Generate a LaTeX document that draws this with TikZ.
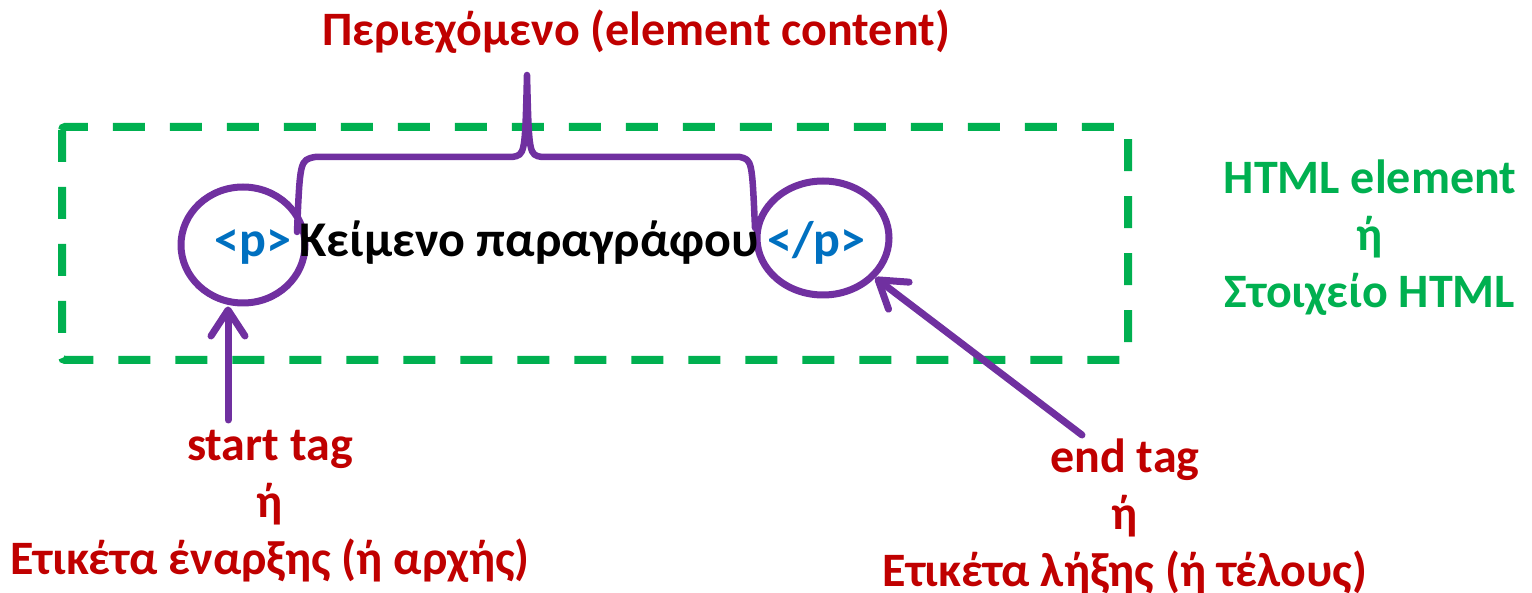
\documentclass[tikz,border=0pt]{standalone}
\usepackage{fontspec}
\setmainfont{Carlito}
\usetikzlibrary{arrows.meta,shapes.geometric}
\definecolor{cred}{HTML}{C00000}
\definecolor{cgreen}{HTML}{00B050}
\definecolor{cpurple}{HTML}{7030A0}
\definecolor{cblue}{HTML}{0070C0}
\tikzset{
  lbl/.style={font=\bfseries\fontsize{48}{57}\selectfont, align=center, inner sep=0pt},
  tagring/.style={ellipse, draw=cpurple, line width=7pt, minimum width=124pt, minimum height=116pt, inner sep=0pt},
  pointer/.style={draw=cpurple, line width=7pt, line cap=round, -{Straight Barb[length=26pt,width=34pt,line cap=round,round]}},
  brace/.style={draw=cpurple, line width=6.5pt, line cap=round, line join=round},
  frame/.style={draw=cgreen, line width=8pt, dash pattern=on 32pt off 25pt, rounded corners=3pt}
}
\begin{document}
\begin{tikzpicture}[x=1pt,y=-1pt]
\useasboundingbox (0,0) rectangle (1532,593);
\draw[frame] (62,127) rectangle (1128,360);
\node[tagring] (s) at (243,245) {};
\node[tagring, minimum width=132pt, minimum height=114pt] (e) at (823,238) {};
\node[lbl, font=\bfseries\fontsize{50}{60}\selectfont, text=black, anchor=base] (txt) at (540,257) {\textcolor{cblue}{<p>}\,Κείμενο παραγράφου\,\textcolor{cblue}{</p>}};
\draw[brace] (297,232) .. controls (300,160) .. (315,157) -- (512,157) .. controls (525,155) .. (527,75) .. controls (529,155) .. (542,157) -- (740,157) .. controls (752,160) .. (755,228);
\node[lbl, text=cred] (title) at (636,32) {Περιεχόμενο (element content)};
\node[lbl, text=cgreen] (html) at (1370,238) {HTML element\\ή\\Στοιχείο HTML};
\node[lbl, text=cred] (start) at (270,506) {start tag\\ή\\Ετικέτα έναρξης (ή αρχής)};
\node[lbl, text=cred] (end) at (1125,516) {end tag\\ή\\Ετικέτα λήξης (ή τέλους)};
\coordinate (a1) at (228,420);
\coordinate (a2) at (1082,435);
\draw[pointer] (a1) -- (a1 |- s.south);
\draw[pointer] (a2) -- (e);
\end{tikzpicture}
\end{document}
